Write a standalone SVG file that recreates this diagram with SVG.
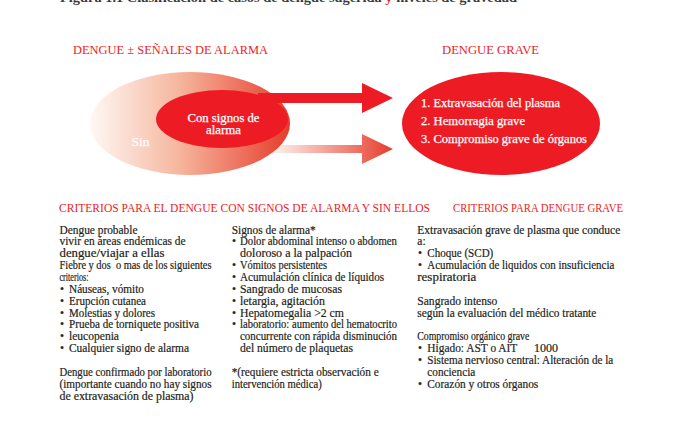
<svg xmlns="http://www.w3.org/2000/svg" width="685" height="421" viewBox="0 0 685 421">
<style>
.t{font-family:"Liberation Serif","Times New Roman",serif;font-size:11.5px;fill:#231f20;stroke:#231f20;stroke-width:0.2px}
.h{font-family:"Liberation Serif","Times New Roman",serif;font-size:12.5px;fill:#ed1c24}
.w{font-family:"Liberation Serif","Times New Roman",serif;font-size:12.5px;fill:#ffffff;stroke:#ffffff;stroke-width:0.25px}
</style>
<defs>
<linearGradient id="gOuter" x1="0" y1="0" x2="1" y2="0">
<stop offset="0" stop-color="#fff8f5"/>
<stop offset="0.45" stop-color="#f6b59c"/>
<stop offset="1" stop-color="#e63c2c"/>
</linearGradient>
<linearGradient id="gArrow" gradientUnits="userSpaceOnUse" x1="272" y1="0" x2="393" y2="0">
<stop offset="0" stop-color="#fff4ef"/>
<stop offset="1" stop-color="#e63c2c"/>
</linearGradient>
</defs>
<rect width="685" height="421" fill="#ffffff"/>

<g id="title">
<text x="60" y="2" font-family="Liberation Serif, serif" font-size="12" font-weight="bold" fill="#3a3a3a" textLength="457" lengthAdjust="spacingAndGlyphs">Figura 1.1 Clasificación de casos de dengue sugerida <tspan fill="#ed1c24">y</tspan> niveles de gravedad</text>
</g>

<g id="header-top-left"><text class="h" x="73" y="54" textLength="195" lengthAdjust="spacingAndGlyphs">DENGUE ± SEÑALES DE ALARMA</text></g>
<g id="header-top-right"><text class="h" x="442" y="54" textLength="97" lengthAdjust="spacingAndGlyphs">DENGUE GRAVE</text></g>

<g id="connectors">
<path id="arrow-sin" d="M272 145 H362 V134 L393 149 L362 164 V153 H272 Z" fill="url(#gArrow)"/>
</g>

<g id="node-sin">
<ellipse cx="190" cy="123.5" rx="100" ry="51.5" fill="url(#gOuter)"/>
<text class="w" x="131.5" y="146" textLength="18" lengthAdjust="spacingAndGlyphs">Sin</text>
</g>

<g id="connectors-top">
<path id="arrow-con" d="M258 93 H362 V83 L393 98 L362 113 V103 H258 Z" fill="#ed1c24"/>
</g>

<g id="node-con">
<ellipse cx="222" cy="119" rx="66" ry="29" fill="#ed1c24"/>
<text class="w" x="187.5" y="121.5" textLength="72" lengthAdjust="spacingAndGlyphs">Con signos de</text>
<text class="w" x="206" y="134" textLength="35" lengthAdjust="spacingAndGlyphs">alarma</text>
</g>

<g id="node-grave">
<ellipse cx="501" cy="123.5" rx="99" ry="51.5" fill="#ed1c24"/>
<text class="w" x="421" y="107" textLength="139" lengthAdjust="spacingAndGlyphs">1. Extravasación del plasma</text>
<text class="w" x="421" y="125" textLength="104" lengthAdjust="spacingAndGlyphs">2. Hemorragia grave</text>
<text class="w" x="421" y="143" textLength="166" lengthAdjust="spacingAndGlyphs">3. Compromiso grave de órganos</text>
</g>

<g id="header-criteria-left"><text class="h" x="59" y="212" font-size="12" textLength="371" lengthAdjust="spacingAndGlyphs">CRITERIOS PARA EL DENGUE CON SIGNOS DE ALARMA Y SIN ELLOS</text></g>
<g id="header-criteria-right"><text class="h" x="453" y="212" font-size="12" textLength="170" lengthAdjust="spacingAndGlyphs">CRITERIOS PARA DENGUE GRAVE</text></g>

<g id="criteria-left">
<text class="t" x="59.5" y="233.5" textLength="78" lengthAdjust="spacingAndGlyphs">Dengue probable</text>
<text class="t" x="59.5" y="245.4" textLength="126" lengthAdjust="spacingAndGlyphs">vivir en áreas endémicas de</text>
<text class="t" x="59.5" y="257.2" textLength="105" lengthAdjust="spacingAndGlyphs">dengue/viajar a ellas</text>
<text class="t" x="59.5" y="269.1" textLength="152" lengthAdjust="spacingAndGlyphs" xml:space="preserve">Fiebre y dos  o mas de los siguientes</text>
<text class="t" x="59.5" y="280.9" textLength="29" lengthAdjust="spacingAndGlyphs">criterios:</text>
<text class="t" x="60" y="292.8">•</text><text class="t" x="69" y="292.8" textLength="75" lengthAdjust="spacingAndGlyphs">Náuseas, vómito</text>
<text class="t" x="60" y="304.7">•</text><text class="t" x="69" y="304.7" textLength="77" lengthAdjust="spacingAndGlyphs">Erupción cutanea</text>
<text class="t" x="60" y="316.5">•</text><text class="t" x="69" y="316.5" textLength="86" lengthAdjust="spacingAndGlyphs">Molestias y dolores</text>
<text class="t" x="60" y="328.4">•</text><text class="t" x="69" y="328.4" textLength="130" lengthAdjust="spacingAndGlyphs">Prueba de torniquete positiva</text>
<text class="t" x="60" y="340.2">•</text><text class="t" x="69" y="340.2" textLength="50" lengthAdjust="spacingAndGlyphs">leucopenia</text>
<text class="t" x="60" y="352.1">•</text><text class="t" x="69" y="352.1" textLength="120" lengthAdjust="spacingAndGlyphs">Cualquier signo de alarma</text>
<text class="t" x="59.5" y="375.8" textLength="152" lengthAdjust="spacingAndGlyphs">Dengue confirmado por laboratorio</text>
<text class="t" x="59.5" y="387.7" textLength="152" lengthAdjust="spacingAndGlyphs">(importante cuando no hay signos</text>
<text class="t" x="59.5" y="399.5" textLength="134" lengthAdjust="spacingAndGlyphs">de extravasación de plasma)</text>
</g>

<g id="criteria-middle">
<text class="t" x="231.7" y="233.5" textLength="84" lengthAdjust="spacingAndGlyphs">Signos de alarma*</text>
<text class="t" x="232" y="245.4">•</text><text class="t" x="240" y="245.4" textLength="157" lengthAdjust="spacingAndGlyphs">Dolor abdominal intenso o abdomen</text>
<text class="t" x="240" y="257.2" textLength="112" lengthAdjust="spacingAndGlyphs">doloroso a la palpación</text>
<text class="t" x="232" y="269.1">•</text><text class="t" x="240" y="269.1" textLength="87" lengthAdjust="spacingAndGlyphs">Vómitos persistentes</text>
<text class="t" x="232" y="280.9">•</text><text class="t" x="240" y="280.9" textLength="144" lengthAdjust="spacingAndGlyphs">Acumulación clínica de líquidos</text>
<text class="t" x="232" y="292.8">•</text><text class="t" x="240" y="292.8" textLength="102" lengthAdjust="spacingAndGlyphs">Sangrado de mucosas</text>
<text class="t" x="232" y="304.7">•</text><text class="t" x="240" y="304.7" textLength="85" lengthAdjust="spacingAndGlyphs">letargia, agitación</text>
<text class="t" x="232" y="316.5">•</text><text class="t" x="240" y="316.5" textLength="104" lengthAdjust="spacingAndGlyphs">Hepatomegalia &gt;2 cm</text>
<text class="t" x="232" y="328.4">•</text><text class="t" x="240" y="328.4" textLength="157" lengthAdjust="spacingAndGlyphs">laboratorio: aumento del hematocrito</text>
<text class="t" x="240" y="340.2" textLength="157" lengthAdjust="spacingAndGlyphs">concurrente con rápida disminución</text>
<text class="t" x="240" y="352.1" textLength="113" lengthAdjust="spacingAndGlyphs">del número de plaquetas</text>
<text class="t" x="231.7" y="375.8" textLength="147" lengthAdjust="spacingAndGlyphs">*(requiere estricta observación e</text>
<text class="t" x="231.7" y="387.7" textLength="90" lengthAdjust="spacingAndGlyphs">intervención médica)</text>
</g>

<g id="criteria-right">
<text class="t" x="417.3" y="233.5" textLength="203" lengthAdjust="spacingAndGlyphs">Extravasación grave de plasma que conduce</text>
<text class="t" x="417.3" y="245.4">a:</text>
<text class="t" x="418" y="257.2">•</text><text class="t" x="427.3" y="257.2" textLength="66" lengthAdjust="spacingAndGlyphs">Choque (SCD)</text>
<text class="t" x="418" y="269.1">•</text><text class="t" x="427.3" y="269.1" textLength="187" lengthAdjust="spacingAndGlyphs">Acumulación de liquidos con insuficiencia</text>
<text class="t" x="417.3" y="280.9" textLength="59" lengthAdjust="spacingAndGlyphs">respiratoria</text>
<text class="t" x="417.3" y="304.7" textLength="80" lengthAdjust="spacingAndGlyphs">Sangrado intenso</text>
<text class="t" x="417.3" y="316.5" textLength="179" lengthAdjust="spacingAndGlyphs">según la evaluación del médico tratante</text>
<text class="t" x="417.3" y="340.2" textLength="112" lengthAdjust="spacingAndGlyphs">Compromiso orgánico grave</text>
<text class="t" x="418" y="352.1">•</text><text class="t" x="427.3" y="352.1" textLength="90" lengthAdjust="spacingAndGlyphs">Higado: AST o AIT</text><text class="t" x="534" y="352.1" textLength="24" lengthAdjust="spacingAndGlyphs">1000</text>
<text class="t" x="418" y="364">•</text><text class="t" x="427.3" y="364" textLength="186" lengthAdjust="spacingAndGlyphs">Sistema nervioso central: Alteración de la</text>
<text class="t" x="427.3" y="375.8" textLength="48" lengthAdjust="spacingAndGlyphs">conciencia</text>
<text class="t" x="418" y="387.7">•</text><text class="t" x="427.3" y="387.7" textLength="111" lengthAdjust="spacingAndGlyphs">Corazón y otros órganos</text>
</g>
</svg>
